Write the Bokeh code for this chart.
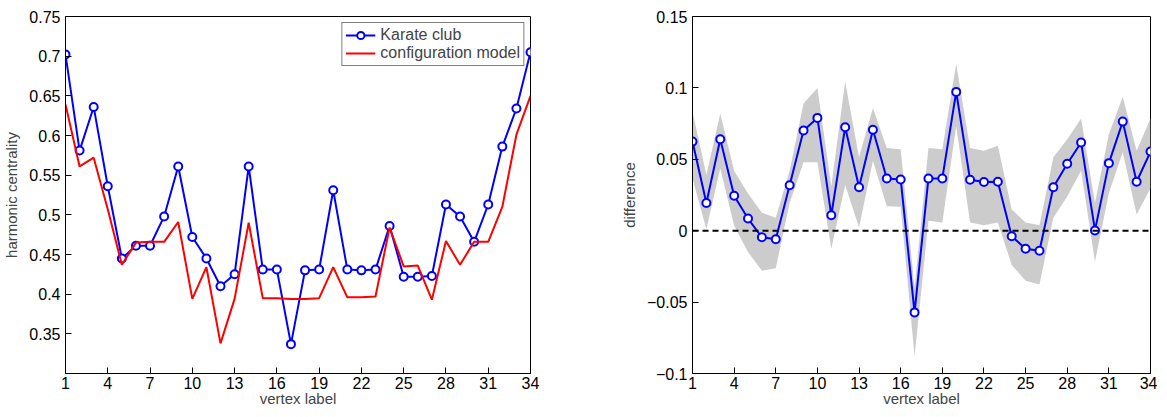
from bokeh.plotting import figure
from bokeh.models import ColumnDataSource, FixedTicker, Span, Legend, LegendItem
from bokeh.layouts import row
from bokeh.embed import file_html
from bokeh.resources import INLINE

vertex = list(range(1, 35))
karate = [0.702, 0.581, 0.636, 0.536, 0.445, 0.461, 0.461, 0.498, 0.561, 0.472,
          0.445, 0.410, 0.425, 0.561, 0.431, 0.431, 0.337, 0.430, 0.431, 0.531,
          0.431, 0.430, 0.431, 0.486, 0.422, 0.422, 0.423, 0.513, 0.498, 0.466,
          0.513, 0.586, 0.634, 0.705]
config = [0.639, 0.561, 0.572, 0.507, 0.437, 0.465, 0.466, 0.466, 0.491, 0.394,
          0.434, 0.338, 0.394, 0.490, 0.395, 0.395, 0.394, 0.394, 0.395, 0.434,
          0.396, 0.396, 0.397, 0.484, 0.435, 0.436, 0.393, 0.467, 0.437, 0.466,
          0.466, 0.510, 0.601, 0.650]
diff = [0.0624, 0.0194, 0.064, 0.0245, 0.0085, -0.0046, -0.006, 0.0318, 0.0702, 0.079,
        0.0108, 0.0725, 0.0304, 0.0707, 0.0366, 0.0359, -0.0572, 0.0366, 0.0366, 0.0972,
        0.0357, 0.0341, 0.0343, -0.0039, -0.0126, -0.014, 0.0304, 0.0469, 0.0618, 0.0002,
        0.0473, 0.0764, 0.0343, 0.0554]
upper = [0.0835, 0.039, 0.082, 0.042, 0.026, 0.0126, 0.009, 0.042, 0.089, 0.100,
         0.031, 0.1045, 0.0515, 0.086, 0.058, 0.057, -0.040, 0.058, 0.057, 0.1167,
         0.058, 0.056, 0.0595, 0.0149, 0.0057, 0.0039, 0.0515, 0.064, 0.0785, 0.0194,
         0.0675, 0.0938, 0.056, 0.0785]
lower = [0.0366, 0.001, 0.0435, 0.0034, -0.0149, -0.0281, -0.0263, 0.0194, 0.048, 0.048,
         -0.0126, 0.032, 0.0023, 0.049, 0.0172, 0.0167, -0.088, 0.0069, 0.0057, 0.0732,
         0.0057, 0.0039, 0.0057, -0.024, -0.035, -0.0377, 0.009, 0.024, 0.042, -0.0217,
         0.0263, 0.0549, 0.0114, 0.0297]
x_ticks = [1, 4, 7, 10, 13, 16, 19, 22, 25, 28, 31, 34]
left_ticks = [0.35, 0.4, 0.45, 0.5, 0.55, 0.6, 0.65, 0.7, 0.75]
right_ticks = [-0.1, -0.05, 0, 0.05, 0.1, 0.15]

FONT = "Liberation Sans"
BLUE = "#0000ff"
RED = "#ff0000"


def style(p, yticks, ylabel):
    p.xgrid.grid_line_color = None
    p.ygrid.grid_line_color = None
    p.outline_line_color = "black"
    p.outline_line_width = 1
    p.xaxis.ticker = FixedTicker(ticks=x_ticks)
    p.yaxis.ticker = FixedTicker(ticks=yticks)
    p.yaxis.major_label_overrides = {t: ("%g" % t).replace("-", "\u2212") for t in yticks}
    for ax in (p.xaxis, p.yaxis):
        ax.major_tick_in = 6
        ax.major_tick_out = 0
        ax.minor_tick_line_color = None
        ax.axis_line_color = "black"
        ax.major_label_text_font = FONT
        ax.major_label_text_font_size = "16px"
        ax.major_label_text_color = "black"
        ax.axis_label_text_font = FONT
        ax.axis_label_text_font_size = "15px"
        ax.axis_label_text_font_style = "normal"
    p.xaxis.axis_label = "vertex label"
    p.xaxis.axis_label_standoff = -2
    p.xaxis.major_label_standoff = 3
    p.yaxis.axis_label = ylabel
    p.yaxis.axis_label_standoff = 6


p1 = figure(width=582, height=409, x_range=(1, 34), y_range=(0.3, 0.75),
            output_backend="svg", toolbar_location=None,
            min_border_left=64, min_border_right=52, min_border_top=16, min_border_bottom=22)
style(p1, left_ticks, "harmonic centrality")
src = ColumnDataSource(dict(x=vertex, k=karate, c=config))
r_k = p1.line("x", "k", source=src, line_color=BLUE, line_width=2)
r_m = p1.scatter("x", "k", source=src, size=8, fill_color="white", line_color=BLUE, line_width=2)
r_c = p1.line("x", "c", source=src, line_color=RED, line_width=2)
leg = Legend(items=[LegendItem(label="Karate club", renderers=[r_k, r_m]),
                    LegendItem(label="configuration model", renderers=[r_c])],
             location="top_right", border_line_color="black", border_line_width=1,
             label_text_font=FONT, label_text_font_size="16px", spacing=0,
             padding=3, margin=6, glyph_width=30, label_height=18, glyph_height=18)
p1.add_layout(leg)

p2 = figure(width=575, height=409, x_range=(1, 34), y_range=(-0.1, 0.15),
            output_backend="svg", toolbar_location=None,
            min_border_left=110, min_border_right=7, min_border_top=16, min_border_bottom=22)
style(p2, right_ticks, "difference")
src2 = ColumnDataSource(dict(x=vertex, d=diff, lo=lower, hi=upper))
p2.varea(x="x", y1="lo", y2="hi", source=src2, fill_color="#cccccc")
p2.add_layout(Span(location=0, dimension="width", line_color="black",
                   line_dash="6 4", line_width=2))
p2.line("x", "d", source=src2, line_color=BLUE, line_width=2)
p2.scatter("x", "d", source=src2, size=8, fill_color="white", line_color=BLUE, line_width=2)

layout = row(p1, p2)
open("out.html", "w").write(file_html(layout, INLINE))
